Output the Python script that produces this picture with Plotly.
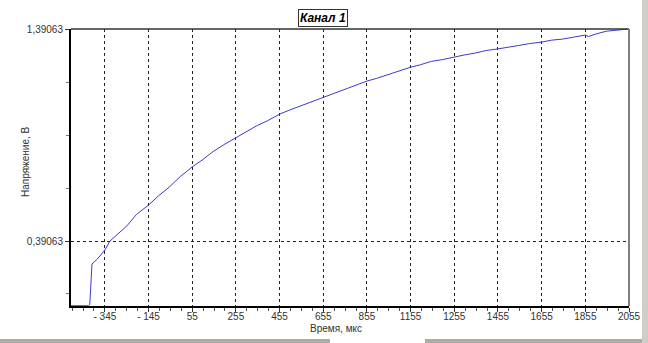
import plotly.graph_objects as go

# --- data ---
time_us = [-500, -460, -420, -414, -410, -404, -380, -345, -321, -290, -262, -244, -200,
           -145, -100, -50, 0, 55, 100, 150, 200, 255, 300, 350, 400, 457, 500, 550, 600,
           655, 700, 750, 800, 855, 900, 950, 1000, 1057, 1100, 1150, 1200, 1255, 1300,
           1350, 1400, 1451, 1500, 1550, 1600, 1657, 1700, 1750, 1800, 1855, 1870, 1900,
           1950, 2000, 2055]
voltage = [0.085, 0.085, 0.085, 0.090, 0.200, 0.282, 0.305, 0.348, 0.391, 0.418, 0.443,
           0.462, 0.516, 0.560, 0.603, 0.645, 0.694, 0.740, 0.772, 0.812, 0.845, 0.877,
           0.905, 0.934, 0.958, 0.990, 1.008, 1.027, 1.047, 1.070, 1.085, 1.104, 1.122,
           1.145, 1.158, 1.175, 1.193, 1.211, 1.222, 1.238, 1.246, 1.259, 1.268, 1.277,
           1.289, 1.296, 1.306, 1.313, 1.322, 1.329, 1.338, 1.343, 1.352, 1.362, 1.355,
           1.366, 1.380, 1.386, 1.391]

x_tick_vals = [-345, -145, 55, 255, 455, 655, 855, 1055, 1255, 1455, 1655, 1855, 2055]
x_tick_text = ["- 345", "- 145", "55", "255", "455", "655", "855", "1155", "1255",
               "1455", "1655", "1855", "2055"]
y_tick_vals = [0.39063, 1.39063]
y_tick_text = ["0,39063", "1,39063"]

x_range = [-500, 2055]
y_range = [0.084, 1.39063]

fig = go.Figure()
fig.add_trace(go.Scatter(x=time_us, y=voltage, mode="lines",
                         line=dict(color="#3a3ad0", width=1), showlegend=False,
                         hoverinfo="skip"))

font = "Liberation Sans, Arial, sans-serif"
fig.update_layout(
    width=648, height=343,
    margin=dict(l=71, r=19, t=29, b=37),
    paper_bgcolor="white", plot_bgcolor="white",
    font=dict(family=font, size=10, color="#333333"),
    xaxis=dict(range=x_range, tickvals=x_tick_vals, ticktext=x_tick_text,
               automargin=False, ticklabelstandoff=-4,
               showgrid=True, gridcolor="#222222", griddash="3px,3px", gridwidth=1,
               showline=True, linecolor="black", linewidth=2,
               ticks="outside", ticklen=4, tickcolor="#333333",
               minor=dict(dtick=50, tick0=-345, ticks="outside", ticklen=3,
                          tickcolor="#555555", showgrid=False),
               zeroline=False, tickfont=dict(size=10, color="#333333")),
    yaxis=dict(range=y_range, tickvals=y_tick_vals, ticktext=y_tick_text,
               automargin=False,
               showgrid=True, gridcolor="#222222", griddash="3px,3px", gridwidth=1,
               showline=True, linecolor="black", linewidth=2,
               ticks="outside", ticklen=4, tickcolor="#333333",
               minor=dict(dtick=0.25, tick0=0.39063, ticks="outside", ticklen=3,
                          tickcolor="#777777", showgrid=False),
               zeroline=False, tickfont=dict(size=10, color="#333333")),
)

W, H = 648, 343
pl, pr, pt, pb = 71, 629, 29, 306
def px(x):
    return (x - pl) / (pr - pl)
def py(y):
    return (pb - y) / (pb - pt)

# axis titles
fig.add_annotation(text="Время, мкс", xref="paper", yref="paper", x=px(336), y=py(328),
                   xanchor="center", yanchor="middle", showarrow=False,
                   font=dict(family=font, size=10, color="#333333"))
fig.add_annotation(text="Напряжение, В", xref="paper", yref="paper", x=px(25), y=py(162),
                   xanchor="center", yanchor="middle", showarrow=False, textangle=-90,
                   font=dict(family=font, size=10, color="#333333"))

# chart title in a box
fig.add_annotation(text="<b><i>Канал 1</i></b>", xref="paper", yref="paper",
                   x=px(323), y=py(18), xanchor="center", yanchor="middle",
                   showarrow=False, font=dict(family=font, size=12, color="black"),
                   bordercolor="#333333", borderwidth=1, borderpad=1, bgcolor="white")

# top and right frame of the plot area
fig.add_shape(type="line", xref="paper", yref="paper", x0=0, x1=1, y0=1, y1=1,
              line=dict(color="#333333", width=1.5))
fig.add_shape(type="line", xref="paper", yref="paper", x0=1, x1=1, y0=0, y1=1,
              line=dict(color="#808080", width=2))

# window frame (right and bottom grey bars)
fig.add_shape(type="rect", xref="paper", yref="paper", x0=px(642), x1=px(648),
              y0=py(343), y1=py(0), fillcolor="#cfcdc4", line=dict(width=0), layer="above")
fig.add_shape(type="rect", xref="paper", yref="paper", x0=px(0), x1=px(330),
              y0=py(343), y1=py(339), fillcolor="#aeada5", line=dict(width=0), layer="above")
fig.add_shape(type="rect", xref="paper", yref="paper", x0=px(425), x1=px(642),
              y0=py(343), y1=py(339), fillcolor="#aeada5", line=dict(width=0), layer="above")

fig.write_html("out.html")
